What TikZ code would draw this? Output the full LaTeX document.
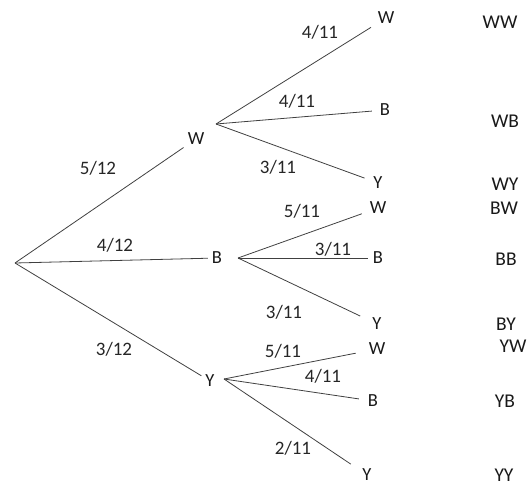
\documentclass[tikz,border=0pt]{standalone}
\usepackage{fontspec}
\setmainfont{Carlito}
\usetikzlibrary{calc}

\begin{document}
\begin{tikzpicture}[x=1pt,y=-1pt,
  lbl/.style={font=\fontsize{18.5}{21}\selectfont,text=black!90,inner sep=4pt},
  prob/.style={font=\fontsize{19}{22}\selectfont,text=black!85,inner sep=0pt},
  outc/.style={font=\fontsize{19.5}{22}\selectfont,text=black!90,inner sep=0pt},
  branch/.style={black!75,line width=0.8pt}]
  \useasboundingbox (0,0) rectangle (530,487);
  \coordinate (root) at (15,263);
  % first ball
  \node[lbl] (mW) at (196,139){W};
  \node[lbl] (mB) at (217,258){B};
  \node[lbl] (mY) at (210,381){Y};
  \draw[branch] (root) -- (mW);
  \draw[branch] (root) -- (mB);
  \draw[branch] (root) -- (mY);
  \node[prob] (p1W) at (98,168){5/12};
  \node[prob] (p1B) at (115,245){4/12};
  \node[prob] (p1Y) at (114,349){3/12};
  % forks just right of the first letters
  \coordinate (fW) at ($(mW)+(20,-15)$);
  \coordinate (fB) at ($(mB)+(21,0)$);
  \coordinate (fY) at ($(mY)+(14,-2)$);
  % second ball after W
  \node[lbl] (WW) at (386,18){W};
  \node[lbl] (WB) at (385,110){B};
  \node[lbl] (WY) at (378,183){Y};
  \draw[branch,shorten >=3pt] (fW) -- (WW);
  \draw[branch,shorten >=4pt] (fW) -- (WB);
  \draw[branch,shorten >=5pt] (fW) -- (WY);
  \node[prob] at (320,32){4/11};
  \node[prob] at (297,101){4/11};
  \node[prob] at (278,167){3/11};
  % second ball after B
  \node[lbl] (BW) at (378,208){W};
  \node[lbl] (BB) at (378,258){B};
  \node[lbl] (BY) at (377,324){Y};
  \draw[branch,shorten >=4pt] (fB) -- (BW);
  \draw[branch,shorten >=1pt] (fB) -- (BB);
  \draw[branch,shorten >=9pt] (fB) -- (BY);
  \node[prob] at (302,211){5/11};
  \node[prob] at (333,249){3/11};
  \node[prob] at (284,312){3/11};
  % second ball after Y
  \node[lbl] (YW) at (377,349){W};
  \node[lbl] (YB) at (373,401){B};
  \node[lbl] (YY) at (367,475){Y};
  \draw[branch,shorten >=9pt] (fY) -- (YW);
  \draw[branch,shorten >=5pt] (fY) -- (YB);
  \draw[branch,shorten >=9pt] (fY) -- (YY);
  \node[prob] at (283,351){5/11};
  \node[prob] at (323,376){4/11};
  \node[prob] at (293,448){2/11};
  % outcomes
  \node[outc] (oWW) at (500,22){WW};
  \node[outc] (oWB) at (505,121){WB};
  \node[outc] (oWY) at (505,184){WY};
  \node[outc] (oBW) at (504,208){BW};
  \node[outc] (oBB) at (506,259){BB};
  \node[outc] (oBY) at (506,324){BY};
  \node[outc] (oYW) at (513,346){YW};
  \node[outc] (oYB) at (505,401){YB};
  \node[outc] (oYY) at (504,475){YY};
\end{tikzpicture}
\end{document}
